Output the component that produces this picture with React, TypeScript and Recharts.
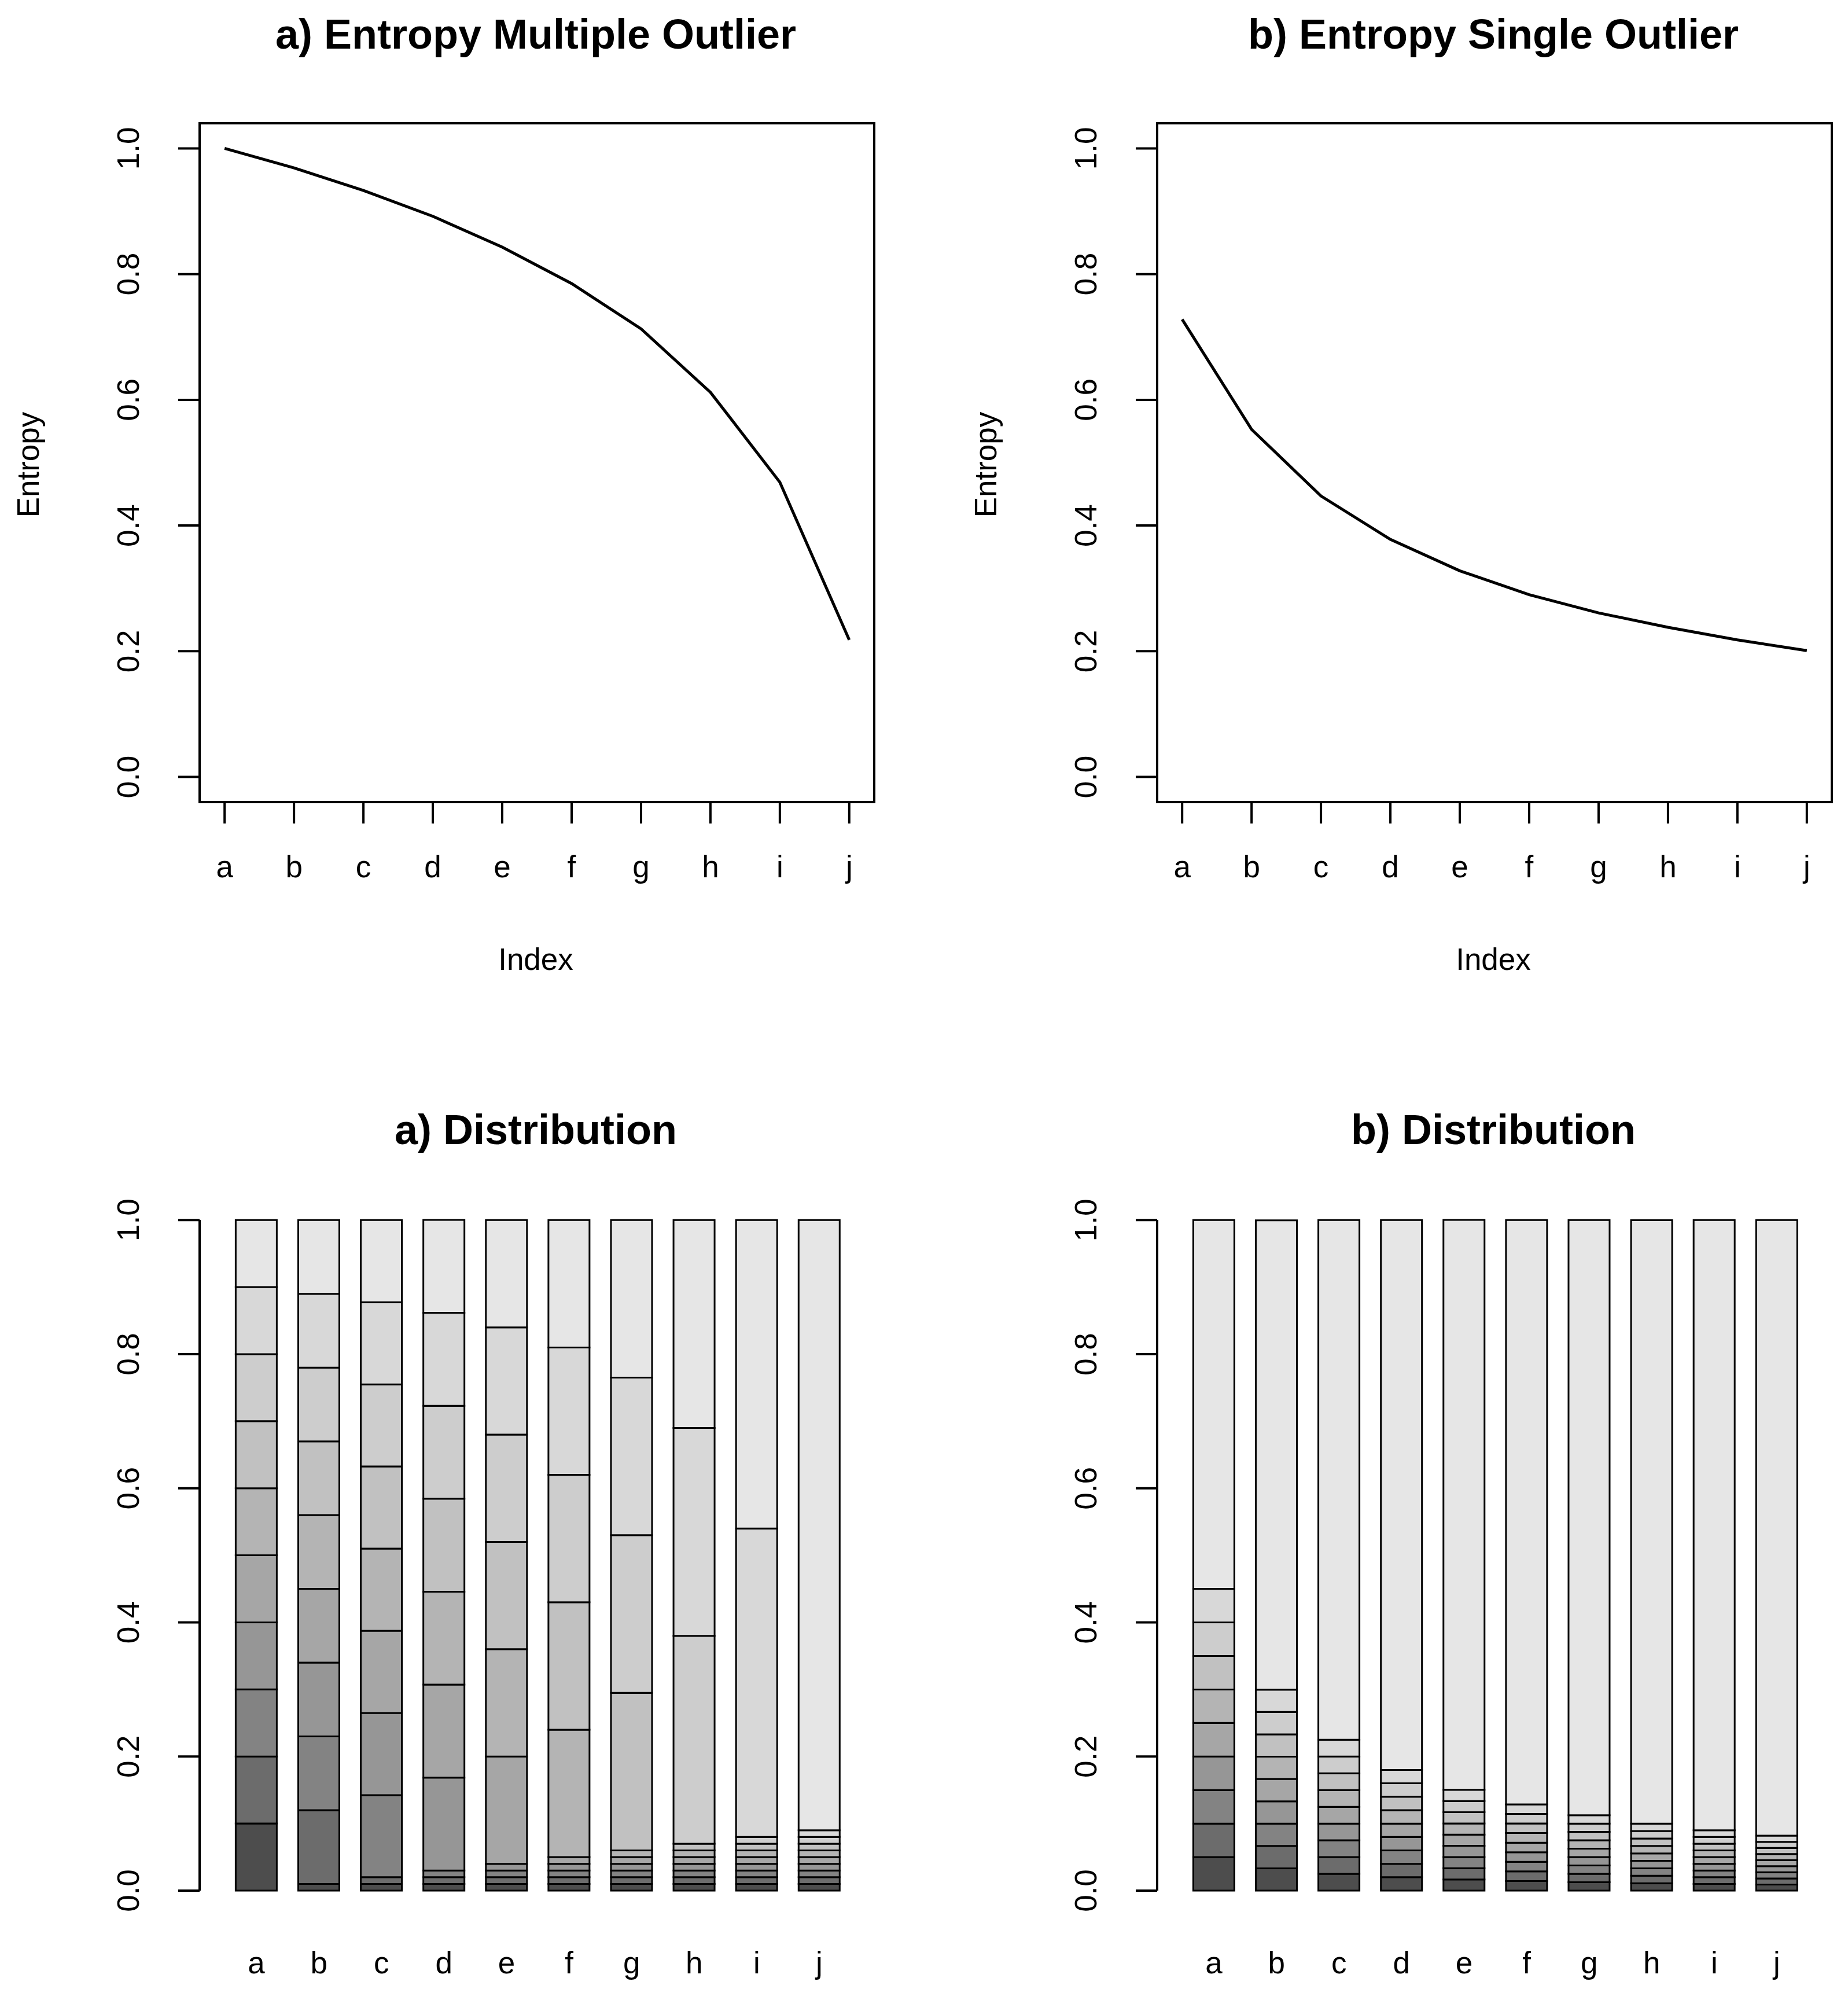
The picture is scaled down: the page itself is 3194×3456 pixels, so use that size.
import { Bar, BarChart, Line, LineChart, ReferenceArea, XAxis, YAxis } from 'recharts';

const letters = ['a', 'b', 'c', 'd', 'e', 'f', 'g', 'h', 'i', 'j'];
const entropyMultiple = [1.0, 0.969, 0.933, 0.892, 0.843, 0.785, 0.713, 0.612, 0.469, 0.218];
const entropySingle = [0.728, 0.553, 0.447, 0.378, 0.328, 0.29, 0.261, 0.238, 0.218, 0.201];
const yTicks = [0, 0.2, 0.4, 0.6, 0.8, 1.0];

const distMultiple = [
  [0.1, 0.1, 0.1, 0.1, 0.1, 0.1, 0.1, 0.1, 0.1, 0.1],
  [0.01, 0.11, 0.11, 0.11, 0.11, 0.11, 0.11, 0.11, 0.11, 0.11],
  [0.01, 0.01, 0.1225, 0.1225, 0.1225, 0.1225, 0.1225, 0.1225, 0.1225, 0.1225],
  [0.01, 0.01, 0.01, 0.1386, 0.1386, 0.1386, 0.1386, 0.1386, 0.1386, 0.1386],
  [0.01, 0.01, 0.01, 0.01, 0.16, 0.16, 0.16, 0.16, 0.16, 0.16],
  [0.01, 0.01, 0.01, 0.01, 0.01, 0.19, 0.19, 0.19, 0.19, 0.19],
  [0.01, 0.01, 0.01, 0.01, 0.01, 0.01, 0.235, 0.235, 0.235, 0.235],
  [0.01, 0.01, 0.01, 0.01, 0.01, 0.01, 0.01, 0.31, 0.31, 0.31],
  [0.01, 0.01, 0.01, 0.01, 0.01, 0.01, 0.01, 0.01, 0.46, 0.46],
  [0.01, 0.01, 0.01, 0.01, 0.01, 0.01, 0.01, 0.01, 0.01, 0.91],
];

const distSingle = [
  [0.05, 0.05, 0.05, 0.05, 0.05, 0.05, 0.05, 0.05, 0.05, 0.55],
  [0.0333, 0.0333, 0.0333, 0.0333, 0.0333, 0.0333, 0.0333, 0.0333, 0.0333, 0.7],
  [0.025, 0.025, 0.025, 0.025, 0.025, 0.025, 0.025, 0.025, 0.025, 0.775],
  [0.02, 0.02, 0.02, 0.02, 0.02, 0.02, 0.02, 0.02, 0.02, 0.82],
  [0.0167, 0.0167, 0.0167, 0.0167, 0.0167, 0.0167, 0.0167, 0.0167, 0.0167, 0.85],
  [0.0143, 0.0143, 0.0143, 0.0143, 0.0143, 0.0143, 0.0143, 0.0143, 0.0143, 0.8714],
  [0.0125, 0.0125, 0.0125, 0.0125, 0.0125, 0.0125, 0.0125, 0.0125, 0.0125, 0.8875],
  [0.0111, 0.0111, 0.0111, 0.0111, 0.0111, 0.0111, 0.0111, 0.0111, 0.0111, 0.9],
  [0.01, 0.01, 0.01, 0.01, 0.01, 0.01, 0.01, 0.01, 0.01, 0.91],
  [0.0091, 0.0091, 0.0091, 0.0091, 0.0091, 0.0091, 0.0091, 0.0091, 0.0091, 0.9182],
];

const greys = ['#4D4D4D', '#6C6C6C', '#838383', '#969696', '#A6A6A6', '#B4B4B4', '#C1C1C1', '#CDCDCD', '#D8D8D8', '#E6E6E6'];

const W = 1597;
const H = 1728;
const font = '"Liberation Sans", Arial, sans-serif';
const fs = 53;

function YTick({ x, y, payload }: any) {
  return (
    <g transform={`translate(${x},${y}) rotate(-90)`}>
      <text textAnchor="middle" fontSize={fs} fontFamily={font} fill="#000">
        {payload.value.toFixed(1)}
      </text>
    </g>
  );
}

function Label({ left, top, text, bold, size, rotate }: any) {
  return (
    <div
      style={{
        position: 'absolute',
        left,
        top,
        transform: `translate(-50%,-50%)${rotate ? ' rotate(-90deg)' : ''}`,
        fontFamily: font,
        fontSize: size,
        fontWeight: bold ? 'bold' : 'normal',
        whiteSpace: 'nowrap',
      }}
    >
      {text}
    </div>
  );
}

function EntropyPanel({ values, left, title }: { values: number[]; left: number; title: string }) {
  const data = values.map((v, i) => ({ idx: i + 1, v }));
  return (
    <div style={{ position: 'absolute', left, top: 0, width: W, height: H }}>
      <LineChart width={W} height={H} data={data} margin={{ top: 213, right: 86, bottom: 0, left: 0 }}>
        <XAxis
          dataKey="idx"
          type="number"
          domain={[0.64, 10.36]}
          ticks={[1, 2, 3, 4, 5, 6, 7, 8, 9, 10]}
          tickFormatter={(v: number) => letters[v - 1]}
          height={342}
          tickSize={37}
          tickMargin={55}
          stroke="#000"
          strokeWidth={4}
          tick={{ fontSize: fs, fontFamily: font, fill: '#000' }}
        />
        <YAxis
          type="number"
          domain={[-0.04, 1.04]}
          ticks={yTicks}
          width={345}
          tickSize={37}
          tickMargin={68}
          stroke="#000"
          strokeWidth={4}
          tick={<YTick />}
        />
        <ReferenceArea x1={0.64} x2={10.36} y1={-0.04} y2={1.04} fill="none" stroke="#000" strokeWidth={4} fillOpacity={0} ifOverflow="visible" />
        <Line dataKey="v" stroke="#000" strokeWidth={5} dot={false} isAnimationActive={false} />
      </LineChart>
      <Label left={926} top={59} text={title} bold size={72} />
      <Label left={926} top={1657} text="Index" size={fs} />
      <Label left={48} top={803} text="Entropy" size={fs} rotate />
    </div>
  );
}

function DistPanel({ dist, left, title }: { dist: number[][]; left: number; title: string }) {
  const data = dist.map((segs, i) => {
    const row: any = { name: letters[i] };
    segs.forEach((s, j) => (row['s' + j] = s));
    return row;
  });
  return (
    <div style={{ position: 'absolute', left, top: H, width: W, height: H }}>
      <BarChart
        width={W}
        height={H}
        data={data}
        margin={{ top: 380, right: 85, bottom: 0, left: 0 }}
        barCategoryGap="17%"
      >
        <XAxis
          dataKey="name"
          height={189}
          axisLine={false}
          tickLine={false}
          tickSize={0}
          tickMargin={105}
          padding={{ left: 44, right: 42 }}
          tick={{ fontSize: fs, fontFamily: font, fill: '#000' }}
        />
        <YAxis
          type="number"
          domain={[0, 1]}
          ticks={yTicks}
          width={345}
          tickSize={37}
          tickMargin={68}
          stroke="#000"
          strokeWidth={4}
          tick={<YTick />}
        />
        {greys.map((c, j) => (
          <Bar key={j} dataKey={'s' + j} stackId="d" fill={c} stroke="#000" strokeWidth={3} isAnimationActive={false} />
        ))}
      </BarChart>
      <Label left={926} top={224} text={title} bold size={72} />
    </div>
  );
}

export default function App() {
  return (
    <div style={{ position: 'relative', width: 3194, height: 3456, margin: -8, background: '#fff' }}>
      <EntropyPanel values={entropyMultiple} left={0} title="a) Entropy Multiple Outlier" />
      <EntropyPanel values={entropySingle} left={1655} title="b) Entropy Single Outlier" />
      <DistPanel dist={distMultiple} left={0} title="a) Distribution" />
      <DistPanel dist={distSingle} left={1655} title="b) Distribution" />
    </div>
  );
}
